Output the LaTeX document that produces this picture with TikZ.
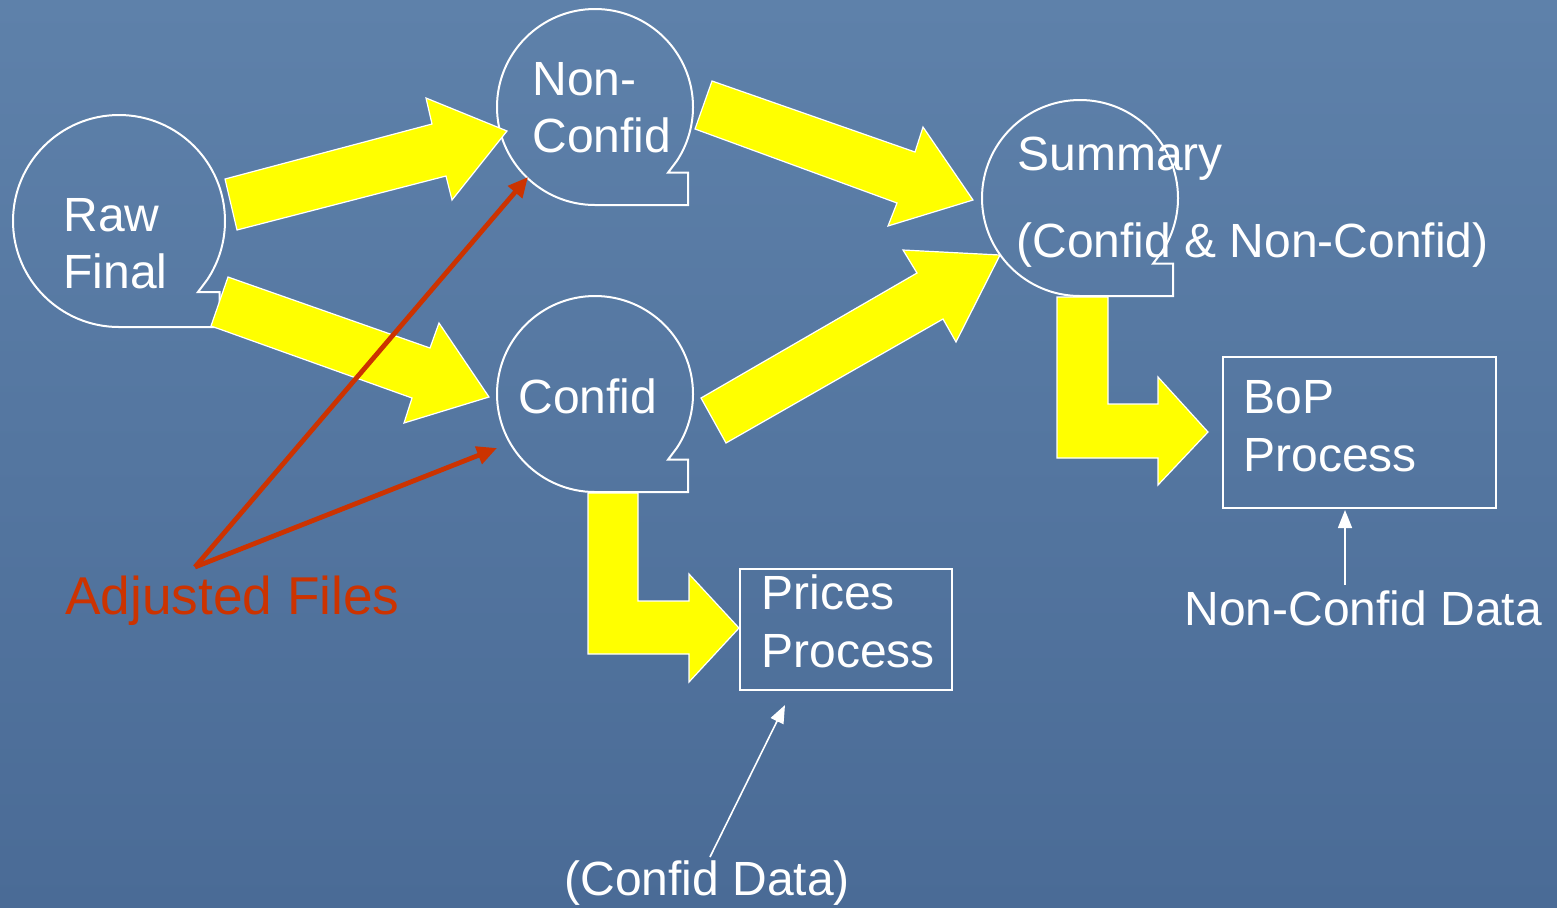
\documentclass[tikz,border=0pt]{standalone}
\usepackage{fontspec}
\setmainfont{Liberation Sans}
\usetikzlibrary{arrows.meta}
\definecolor{bgtop}{RGB}{94,129,170}
\definecolor{bgbot}{RGB}{74,107,150}
\definecolor{adjred}{RGB}{204,51,0}
\definecolor{flowyellow}{RGB}{255,255,0}
\tikzset{
  storeline/.style={draw=white,line width=1pt,line join=miter},
  flowarrow/.style={fill=flowyellow,draw=white,line width=0.6pt,line join=miter},
  boxnode/.style={draw=white,line width=0.9pt,rectangle,inner sep=0pt},
  lbl/.style={anchor=base west,inner sep=0pt,text=white,font=\fontsize{24pt}{29pt}\selectfont},
  redarrow/.style={draw=adjred,line width=2.4pt,-{Triangle[length=10pt,width=9pt]}},
  thinarrow/.style={draw=white,line width=0.8pt,-{Triangle[length=9pt,width=7pt]}},
}
\newcommand\storageshape[4]{% name, cx, cy, r (pixels)
  \node[circle,minimum size=#4pt,inner sep=0pt] (#1) at (#2,#3) {};
  \draw[storeline] (#2,#3+#4) arc[start angle=90,end angle=393.5,radius=#4]
     -- (#2+0.745*#4,#3+0.67*#4) -- (#2+0.95*#4,#3+0.67*#4) -- (#2+0.95*#4,#3+#4) -- cycle;
}
\begin{document}
\begin{tikzpicture}[x=0.5pt,y=-0.5pt]
\useasboundingbox (0,0) rectangle (1557,907);
\fill[top color=bgtop,bottom color=bgbot] (0,0) rectangle (1557,907);

% storage shapes
\storageshape{raw}{119}{221}{106}
\storageshape{noncf}{595}{107}{98}
\storageshape{cf}{595}{394}{98}
\storageshape{summ}{1080}{198}{98}

% process boxes
\node[boxnode,minimum width=136.5pt,minimum height=75.5pt] (bop) at (1359.5,432.5) {};
\node[boxnode,minimum width=106pt,minimum height=60.5pt] (prices) at (846,629.5) {};

% yellow block arrows
\draw[flowarrow] (225,179) -- (432,124) -- (426,98) -- (507,131) -- (452,200) -- (446,176) -- (237,230) -- cycle;
\draw[flowarrow] (228,277) -- (430,348) -- (439,323) -- (489,397) -- (404,423) -- (412,398) -- (211,326) -- cycle;
\draw[flowarrow] (712,81) -- (915,152) -- (923,127) -- (973,200) -- (888,226) -- (897,203) -- (695,129) -- cycle;
\draw[flowarrow] (701,398) -- (917,273) -- (903,250) -- (1000,255) -- (956,342) -- (943,319) -- (726,443) -- cycle;
\draw[flowarrow] (588,493) -- (638,493) -- (638,601) -- (689,601) -- (689,574) -- (739,628) -- (689,682) -- (689,654) -- (588,654) -- cycle;
\draw[flowarrow] (1057,297) -- (1108,297) -- (1108,404) -- (1158,404) -- (1158,377) -- (1208,432) -- (1158,485) -- (1158,458) -- (1057,458) -- cycle;

% labels
\node[lbl] (rawa) at (63,231) {Raw};
\node[lbl] (rawb) at (63,288) {Final};
\node[lbl] (noncfa) at (532,95) {Non-};
\node[lbl] (noncfb) at (532,152) {Confid};
\node[lbl] (cfa) at (518,413) {Confid};
\node[lbl] (summa) at (1017,170) {Summary};
\node[lbl] (summb) at (1016,257) {(Confid \& Non-Confid)};
\node[lbl] (bopa) at (1243,413) {BoP};
\node[lbl] (bopb) at (1243,471) {Process};
\node[lbl] (pra) at (761,609) {Prices};
\node[lbl] (prb) at (761,667) {Process};
\node[lbl] (ncdata) at (1184,625) {Non-Confid Data};
\node[lbl] (cdata) at (564,895) {(Confid Data)};
\node[lbl,text=adjred,font=\fontsize{26.6pt}{32pt}\selectfont] (adj) at (65,614) {Adjusted Files};

% red arrows
\coordinate (apex) at (195,567);
\coordinate (tipnc) at (528,177);
\coordinate (tipc) at (497,448);
\draw[redarrow] (apex) -- (tipnc);
\draw[redarrow] (apex) -- (tipc);

% thin white arrows
\coordinate (cdtail) at (710,857);
\coordinate (cdtip) at (785,705);
\draw[thinarrow] (cdtail) -- (cdtip);
\coordinate (nctail) at (1345,585);
\coordinate (nctip) at (1345,510);
\draw[thinarrow] (nctail) -- (nctip);
\end{tikzpicture}
\end{document}
